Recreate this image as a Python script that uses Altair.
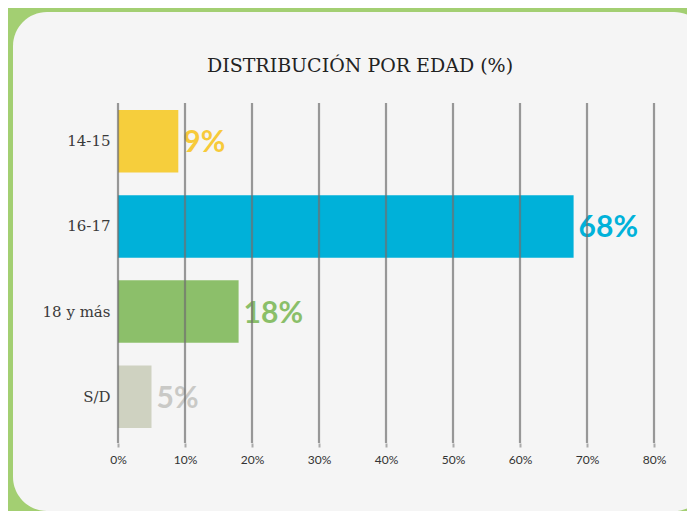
import altair as alt
import pandas as pd

categories = ["14-15", "16-17", "18 y más", "S/D"]
values = [9, 68, 18, 5]
bar_colors = ["#f6ce3c", "#00b1d9", "#8cbf6a", "#cfd2c1"]
label_colors = ["#f7ca3a", "#00b2da", "#8abf69", "#c9c9c6"]
labels = ["9%", "68%", "18%", "5%"]
x_ticks = [0, 10, 20, 30, 40, 50, 60, 70, 80]
title_text = "DISTRIBUCIÓN POR EDAD (%)"

df = pd.DataFrame({
    "cat": categories,
    "val": values,
    "bar_color": bar_colors,
    "label_color": label_colors,
    "label": labels,
})
grid_df = pd.DataFrame({"tick": x_ticks})

W, H = 536, 340
PAD_L, PAD_T = 110, 95

x_scale = alt.Scale(domain=[0, 80], nice=False)

panel = alt.Chart(pd.DataFrame({"a": [0]})).mark_rect(
    color="#f5f5f5", cornerRadius=34
).encode(
    x=alt.value(5 - PAD_L), x2=alt.value(700 - PAD_L),
    y=alt.value(4 - PAD_T), y2=alt.value(503 - PAD_T),
)

title = alt.Chart(pd.DataFrame({"t": [title_text]})).mark_text(
    font="DejaVu Serif", fontSize=19, color="#222222", align="center",
    baseline="alphabetic", fontWeight=300
).encode(
    x=alt.value(352 - PAD_L), y=alt.value(64 - PAD_T), text="t:N"
)

x_enc = alt.X(
    "val:Q",
    scale=x_scale,
    axis=alt.Axis(
        values=x_ticks, labelExpr="datum.value + '%'", title=None,
        grid=False, domain=False, ticks=True, tickColor="#aaaaaa",
        tickSize=4, tickWidth=2, labelFlush=False,
        labelFont="Lato", labelFontSize=12, labelColor="#333333",
        labelPadding=7, zindex=1,
    ),
)
y_enc = alt.Y(
    "cat:N", sort=categories,
    scale=alt.Scale(range=[7, 325], paddingInner=0.266, paddingOuter=0),
    axis=alt.Axis(
        title=None, domain=False, ticks=False, labelPadding=8,
        labelFont="DejaVu Serif", labelFontSize=15, labelColor="#3a3a3a",
        labelFontWeight=300, zindex=1,
    ),
)

bars = alt.Chart(df).mark_bar(opacity=1).encode(
    x=x_enc, y=y_enc, color=alt.Color("bar_color:N", scale=None),
)

grid = alt.Chart(grid_df).mark_rule(
    color="#6f6f6f", strokeWidth=2.2, opacity=0.7
).encode(
    x=alt.X("tick:Q", scale=x_scale),
    y=alt.value(0), y2=alt.value(H),
)

text = alt.Chart(df).mark_text(
    align="left", baseline="middle", dx=5, dy=2, font="Lato",
    fontSize=30, fontWeight="bold",
).encode(
    x="val:Q", y=y_enc,
    text="label:N", color=alt.Color("label_color:N", scale=None),
)

chart = alt.layer(panel, title, bars, text, grid).properties(
    width=W, height=H,
    background="#a3cf72",
    padding={"left": PAD_L, "top": PAD_T, "right": 679 - PAD_L - W, "bottom": 503 - PAD_T - H},
    autosize=alt.AutoSizeParams(type="none"),
).configure_view(stroke=None)

chart.save("out.html", embed_options={"renderer": "svg", "actions": False})
